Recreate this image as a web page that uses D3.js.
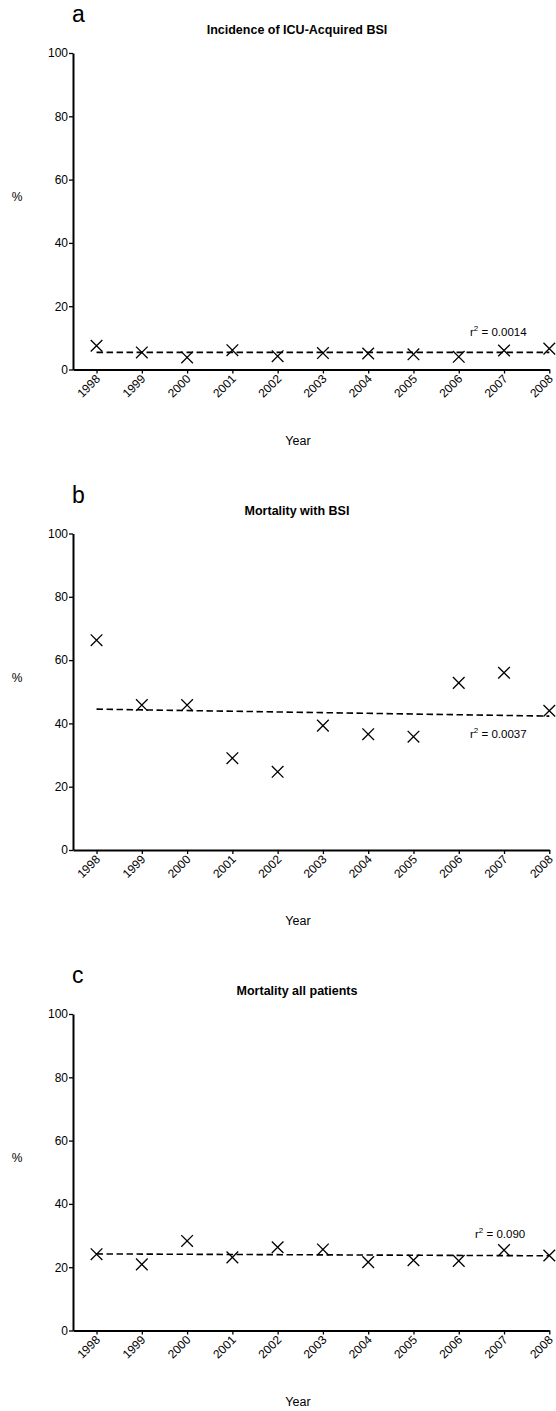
<!DOCTYPE html>
<html>
<head>
<meta charset="utf-8">
<script src="https://cdn.jsdelivr.net/npm/d3@7/dist/d3.min.js"></script>
<style>
	body { margin: 0; background: #fff; }
	svg { display: block; font-family: "Liberation Sans", Arial, sans-serif; }
	.axis path, .axis line { stroke: #000; }
	.axis text { font-size: 12px; fill: #000; }
	.trend { fill: none; stroke: #000; stroke-width: 1.6; stroke-dasharray: 6.5 3.5; }
	.mark { stroke: #000; stroke-width: 1.3; fill: none; }
</style>
</head>
<body>
<svg id="chart"></svg>
<script>
/*=================
=== Data
=================*/
var years = [1998, 1999, 2000, 2001, 2002, 2003, 2004, 2005, 2006, 2007, 2008];
var yTicks = [0, 20, 40, 60, 80, 100];

var panelLetters = ['a', 'b', 'c'];
var panelTitles = ['Incidence of ICU-Acquired BSI', 'Mortality with BSI', 'Mortality all patients'];

var incidenceBSI = [7.5, 5.4, 3.8, 6.1, 4.2, 5.2, 5.05, 4.8, 4.0, 6.0, 6.6];
var mortalityBSI = [66.3, 45.8, 45.8, 29.0, 24.7, 39.3, 36.6, 35.8, 52.8, 56.0, 44.0];
var mortalityAll = [24.1, 20.9, 28.3, 23.1, 26.3, 25.6, 21.6, 22.2, 22.0, 25.4, 23.7];

// dashed fit, value at 1998 and at 2008
var trendIncidence = [5.4, 5.4];
var trendMortBSI = [44.5, 42.3];
var trendMortAll = [24.2, 23.6];

var r2Labels = ['0.0014', '0.0037', '0.090'];

var series = [incidenceBSI, mortalityBSI, mortalityAll];
var trends = [trendIncidence, trendMortBSI, trendMortAll];

/*=================
=== Layout
=================*/
var width = 556, height = 1411;
var panelTop = [53, 533.5, 1014];   // pixel y of 100 %
var plotH = 316.5;
var axisLeft = 73;
var r2X = [470, 470, 475];
var r2Y = [336, 738, 1238];

var svg = d3.select('#chart')
	.attr('width', width)
	.attr('height', height);

var x = d3.scaleLinear()
	.domain([1997.48, 2008])
	.range([axisLeft, 549.3]);

panelLetters.forEach(function (letter, i) {
	var top = panelTop[i];
	var y = d3.scaleLinear().domain([0, 100]).range([top + plotH, top]);
	var g = svg.append('g').attr('class', 'panel');

	// panel letter + title
	g.append('text')
		.attr('x', 72)
		.attr('y', top - 31)
		.attr('font-size', 23)
		.text(letter);

	g.append('text')
		.attr('x', 297)
		.attr('y', top - 19)
		.attr('text-anchor', 'middle')
		.attr('font-size', 12.5)
		.attr('font-weight', 'bold')
		.text(panelTitles[i]);

	// y axis
	var yAxis = g.append('g')
		.attr('class', 'axis')
		.attr('transform', 'translate(' + axisLeft + ',0)')
		.call(d3.axisLeft(y).tickValues(yTicks).tickSize(4).tickSizeOuter(0).tickPadding(1));
	yAxis.select('.domain').attr('stroke-width', 2);
	yAxis.selectAll('.tick line').attr('stroke-width', 1.3);

	// x axis
	var xAxis = g.append('g')
		.attr('class', 'axis')
		.attr('transform', 'translate(0,' + (top + plotH) + ')')
		.call(d3.axisBottom(x).tickValues(years).tickFormat(d3.format('d')).tickSize(4).tickSizeOuter(0));
	xAxis.select('.domain').attr('stroke-width', 2);
	xAxis.selectAll('.tick line').attr('stroke-width', 1.3);
	xAxis.selectAll('.tick text')
		.attr('text-anchor', 'end')
		.attr('x', 0)
		.attr('y', 0)
		.attr('dy', '0.35em')
		.attr('transform', 'translate(1,7) rotate(-45)');

	// axis titles
	g.append('text')
		.attr('x', 17)
		.attr('y', top + 148)
		.attr('text-anchor', 'middle')
		.attr('font-size', 12)
		.text('%');

	g.append('text')
		.attr('x', 298)
		.attr('y', top + plotH + 75)
		.attr('text-anchor', 'middle')
		.attr('font-size', 12.5)
		.text('Year');

	// dashed trend
	var line = d3.line()
		.x(function (d) { return x(d[0]); })
		.y(function (d) { return y(d[1]); });

	g.append('path')
		.attr('class', 'trend')
		.attr('d', line([[years[0], trends[i][0]], [years[years.length - 1], trends[i][1]]]));

	// X markers
	var sym = d3.symbol().type(d3.symbolX).size(90);
	g.selectAll('.mark')
		.data(series[i])
		.enter()
		.append('path')
		.attr('class', 'mark')
		.attr('d', sym)
		.attr('transform', function (d, j) { return 'translate(' + x(years[j]) + ',' + y(d) + ')'; });

	// r squared
	var r2 = g.append('text')
		.attr('x', r2X[i])
		.attr('y', r2Y[i])
		.attr('font-size', 11.5);
	r2.append('tspan').text('r');
	r2.append('tspan').attr('dy', -5).attr('font-size', 8).text('2');
	r2.append('tspan').attr('dy', 5).text(' = ' + r2Labels[i]);
});
</script>
</body>
</html>
